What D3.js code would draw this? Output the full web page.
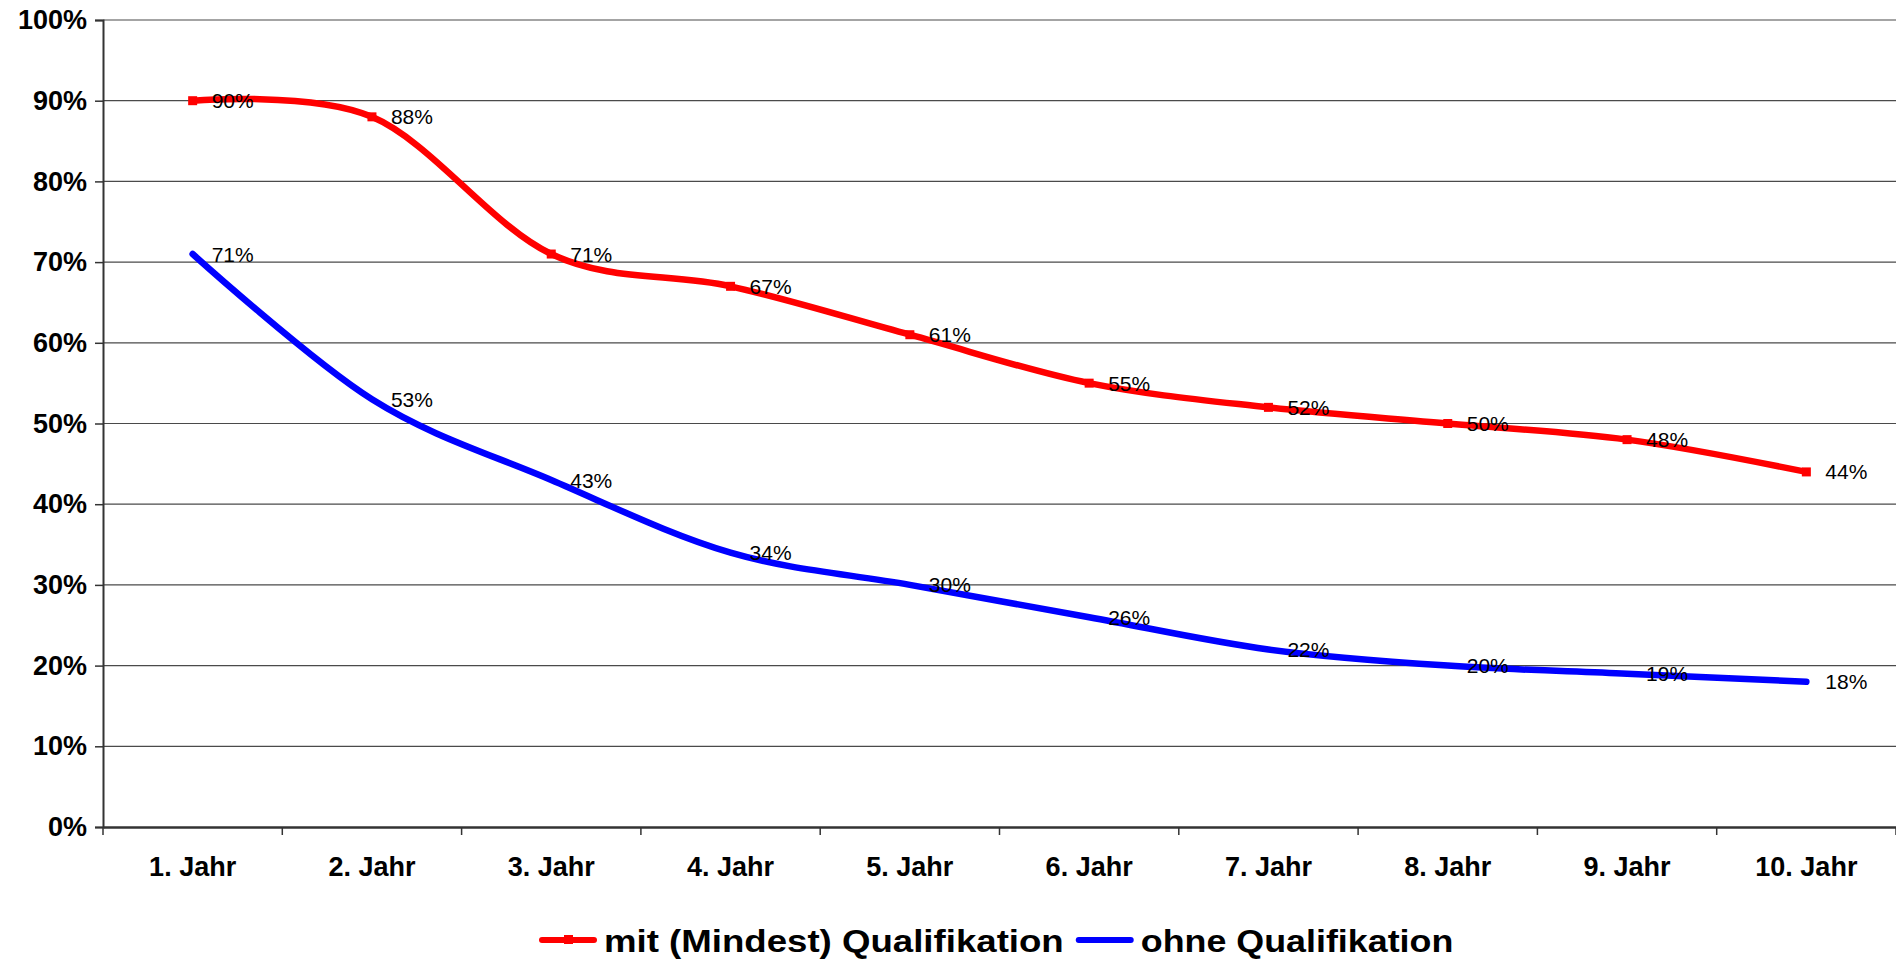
<!DOCTYPE html>
<html>
<head>
<meta charset="utf-8">
<script src="https://cdn.jsdelivr.net/npm/d3@7"></script>
<style>
    body { margin: 0; background: #fff; }
    svg { display: block; font-family: "Liberation Sans", Arial, sans-serif; }
</style>
</head>
<body>
<div id="chart"></div>
<script>
// 数据
const categories = ['1. Jahr', '2. Jahr', '3. Jahr', '4. Jahr', '5. Jahr',
    '6. Jahr', '7. Jahr', '8. Jahr', '9. Jahr', '10. Jahr'];
const mitQualifikation = [90, 88, 71, 67, 61, 55, 52, 50, 48, 44];
const ohneQualifikation = [71, 53, 43, 34, 30, 26, 22, 20, 19, 18];
const yTicks = [0, 10, 20, 30, 40, 50, 60, 70, 80, 90, 100];
const seriesNames = ['mit (Mindest) Qualifikation', 'ohne Qualifikation'];

// 配置
const config = {
    width: 1896,
    height: 959,
    margin: { top: 20, right: 0, bottom: 132, left: 103 }
};

const series = [
    { name: seriesNames[0], values: mitQualifikation, color: '#ff0000', marker: true },
    { name: seriesNames[1], values: ohneQualifikation, color: '#0000ff', marker: false }
];

const svg = d3.select('#chart')
    .append('svg')
    .attr('width', config.width)
    .attr('height', config.height);

const x = d3.scaleBand()
    .domain(categories)
    .range([config.margin.left, config.width - config.margin.right])
    .paddingInner(0)
    .paddingOuter(0);

const y = d3.scaleLinear()
    .domain([0, 100])
    .range([config.height - config.margin.bottom, config.margin.top]);

// 网格线
svg.append('g')
    .selectAll('line')
    .data(yTicks.filter(d => d > 0))
    .enter()
    .append('line')
    .attr('x1', config.margin.left)
    .attr('x2', config.width - config.margin.right)
    .attr('y1', d => y(d))
    .attr('y2', d => y(d))
    .attr('stroke', '#4a4a4a')
    .attr('stroke-width', 1.2);

// Y轴
const yAxis = d3.axisLeft(y)
    .tickValues(yTicks)
    .tickSize(8)
    .tickPadding(8)
    .tickFormat(d => d + '%');

svg.append('g')
    .attr('transform', `translate(${config.margin.left},0)`)
    .call(yAxis)
    .call(g => g.select('.domain').attr('stroke', '#333').attr('stroke-width', 2))
    .call(g => g.selectAll('.tick line').attr('stroke', '#333').attr('stroke-width', 1.5))
    .call(g => g.selectAll('.tick text')
        .attr('font-size', 27)
        .attr('font-weight', 'bold')
        .attr('fill', '#000')
        .attr('font-family', '"Liberation Sans", Arial, sans-serif'));

// X轴
const x0 = y(0);
const xAxis = d3.axisBottom(x).tickSize(0).tickPadding(30);

svg.append('g')
    .attr('transform', `translate(0,${x0})`)
    .call(xAxis)
    .call(g => g.select('.domain').attr('stroke', '#333').attr('stroke-width', 2.5))
    .call(g => g.selectAll('.tick text')
        .attr('font-size', 27)
        .attr('font-weight', 'bold')
        .attr('fill', '#000')
        .attr('font-family', '"Liberation Sans", Arial, sans-serif'));

// 分类边界刻度
const boundaries = categories.map(c => x(c)).concat([x.range()[1]]);
svg.append('g')
    .selectAll('line')
    .data(boundaries)
    .enter()
    .append('line')
    .attr('x1', d => d)
    .attr('x2', d => d)
    .attr('y1', x0)
    .attr('y2', x0 + 8)
    .attr('stroke', '#333')
    .attr('stroke-width', 1.5);

// 平滑曲线
const line = d3.line()
    .x((d, i) => x(categories[i]) + x.bandwidth() / 2)
    .y(d => y(d))
    .curve(d3.curveCardinal.tension(0));

series.forEach(s => {
    const g = svg.append('g');

    g.append('path')
        .datum(s.values)
        .attr('d', line)
        .attr('fill', 'none')
        .attr('stroke', s.color)
        .attr('stroke-width', 6.5)
        .attr('stroke-linejoin', 'round')
        .attr('stroke-linecap', 'round');

    if (s.marker) {
        g.selectAll('rect')
            .data(s.values)
            .enter()
            .append('rect')
            .attr('x', (d, i) => x(categories[i]) + x.bandwidth() / 2 - 4.5)
            .attr('y', d => y(d) - 4.5)
            .attr('width', 9)
            .attr('height', 9)
            .attr('fill', s.color);
    }

    // 数据标签
    g.selectAll('text')
        .data(s.values)
        .enter()
        .append('text')
        .attr('x', (d, i) => x(categories[i]) + x.bandwidth() / 2 + 19)
        .attr('y', d => y(d))
        .attr('dy', '0.36em')
        .attr('font-size', 21)
        .attr('fill', '#000')
        .text(d => d + '%');
});

// 图例
const legend = svg.append('g')
    .attr('transform', `translate(542, 940)`);

let lx = 0;
series.forEach((s, i) => {
    const stretch = i === 0 ? 1.145 : 1.12;
    legend.append('line')
        .attr('x1', lx)
        .attr('x2', lx + 52)
        .attr('y1', 0)
        .attr('y2', 0)
        .attr('stroke', s.color)
        .attr('stroke-width', 6)
        .attr('stroke-linecap', 'round');
    if (s.marker) {
        legend.append('rect')
            .attr('x', lx + 22)
            .attr('y', -5)
            .attr('width', 9)
            .attr('height', 9)
            .attr('fill', s.color);
    }
    const t = legend.append('text')
        .attr('transform', `translate(${lx + 62},12) scale(${stretch},1)`)
        .attr('font-size', 32)
        .attr('font-weight', 'bold')
        .attr('fill', '#000')
        .text(s.name);
    lx += 62 + t.node().getComputedTextLength() * stretch + 15;
});
</script>
</body>
</html>
